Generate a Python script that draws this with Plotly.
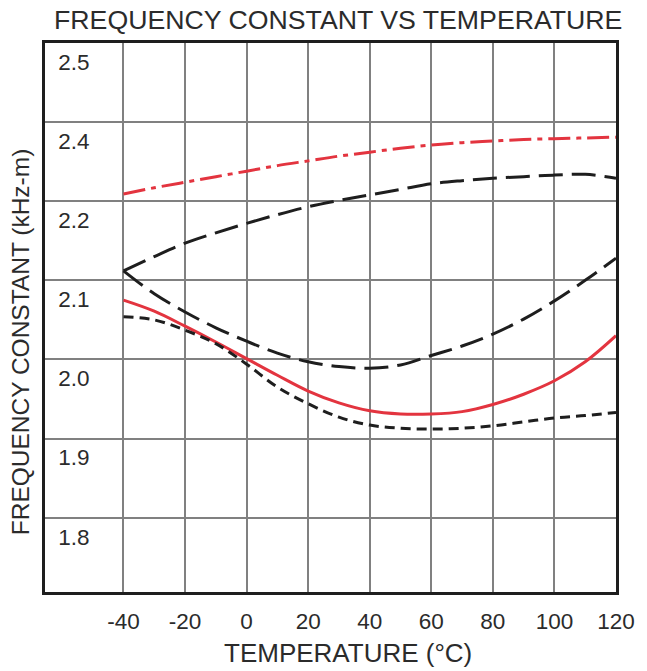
import plotly.graph_objects as go

# ---- data ----
temp = [-40, -30, -20, -10, 0, 10, 20, 30, 40, 50, 60, 70, 80, 90, 100, 110, 120]

red_dashdot = [2.209, 2.217, 2.224, 2.231, 2.238, 2.245, 2.251, 2.257, 2.262, 2.267, 2.271,
               2.274, 2.276, 2.278, 2.279, 2.280, 2.281]
black_upper = [2.112, 2.130, 2.147, 2.160, 2.172, 2.183, 2.193, 2.201, 2.208, 2.215, 2.222,
               2.226, 2.229, 2.231, 2.233, 2.234, 2.229]
black_lower = [2.112, 2.083, 2.060, 2.040, 2.023, 2.008, 1.997, 1.991, 1.989, 1.993, 2.005,
               2.017, 2.032, 2.051, 2.074, 2.100, 2.128]
red_solid = [2.075, 2.061, 2.042, 2.022, 2.001, 1.980, 1.960, 1.945, 1.935, 1.931, 1.931,
             1.934, 1.943, 1.956, 1.973, 1.997, 2.030]
black_short = [2.054, 2.050, 2.037, 2.020, 1.994, 1.965, 1.944, 1.927, 1.917, 1.913, 1.912,
               1.913, 1.916, 1.921, 1.926, 1.929, 1.933]

x_ticks = [-40, -20, 0, 20, 40, 60, 80, 100, 120]
y_grid = [2.4, 2.3, 2.2, 2.1, 2.0, 1.9, 1.8]
y_tick_text = ["2.5", "2.4", "2.2", "2.1", "2.0", "1.9", "1.8"]

RED = "#e3343f"
BLACK = "#1e1e1e"
TXT = "#2b2b2b"
GRID = "#808080"
FONT = "Liberation Sans, Arial, Helvetica, sans-serif"

fig = go.Figure()
fig.add_trace(go.Scatter(x=temp, y=red_dashdot, mode="lines", line_shape="spline",
                         line=dict(color=RED, width=3, dash="22px,6px,5px,6px")))
fig.add_trace(go.Scatter(x=temp, y=black_upper, mode="lines", line_shape="spline",
                         line=dict(color=BLACK, width=3, dash="24px,9px")))
fig.add_trace(go.Scatter(x=temp, y=black_lower, mode="lines", line_shape="spline",
                         line=dict(color=BLACK, width=3, dash="24px,9px")))
fig.add_trace(go.Scatter(x=temp, y=red_solid, mode="lines", line_shape="spline",
                         line=dict(color=RED, width=3)))
fig.add_trace(go.Scatter(x=temp, y=black_short, mode="lines", line_shape="spline",
                         line=dict(color=BLACK, width=3, dash="10px,6px")))

fig.update_layout(
    width=647, height=671,
    margin=dict(l=45, r=25, t=43, b=79),
    paper_bgcolor="white", plot_bgcolor="white",
    showlegend=False,
    font=dict(family=FONT, color=TXT, size=22),
    xaxis=dict(
        range=[-65.5, 120], tickmode="array", tickvals=x_ticks,
        ticktext=[str(v) for v in x_ticks],
        showgrid=True, gridcolor=GRID, gridwidth=1.5,
        showline=True, mirror=True, linecolor=BLACK, linewidth=2.5,
        ticks="", zeroline=False, ticklabelstandoff=7,
        tickfont=dict(size=22.5, color=TXT),
    ),
    yaxis=dict(
        range=[1.706, 2.4], tickmode="array",
        tickvals=[g - 0.024 for g in y_grid], ticktext=y_tick_text,
        ticklabelposition="inside", ticks="", showgrid=False,
        minor=dict(tickmode="array", tickvals=y_grid, showgrid=True,
                   gridcolor=GRID, gridwidth=1.5, ticks=""),
        showline=True, mirror=True, linecolor=BLACK, linewidth=2.5,
        zeroline=False, ticklabelstandoff=15,
        tickfont=dict(size=22.5, color=TXT),
    ),
    annotations=[
        dict(text="FREQUENCY CONSTANT VS TEMPERATURE", xref="paper", yref="paper",
             x=(341 - 45) / 577, y=1 + (43 - 20) / 549, xanchor="center", yanchor="middle",
             showarrow=False, font=dict(size=26.7, color=TXT, family=FONT)),
        dict(text="TEMPERATURE (°C)", xref="paper", yref="paper",
             x=(351 - 45) / 577, y=-(653 - 592) / 549, xanchor="center", yanchor="middle",
             showarrow=False, font=dict(size=26, color=TXT, family=FONT)),
        dict(text="FREQUENCY CONSTANT (kHz-m)", xref="paper", yref="paper",
             x=-(45 - 20) / 577, y=(592 - 342) / 549, xanchor="center", yanchor="middle",
             textangle=-90, showarrow=False, font=dict(size=24.5, color=TXT, family=FONT)),
    ],
)

fig.write_html("out.html")
